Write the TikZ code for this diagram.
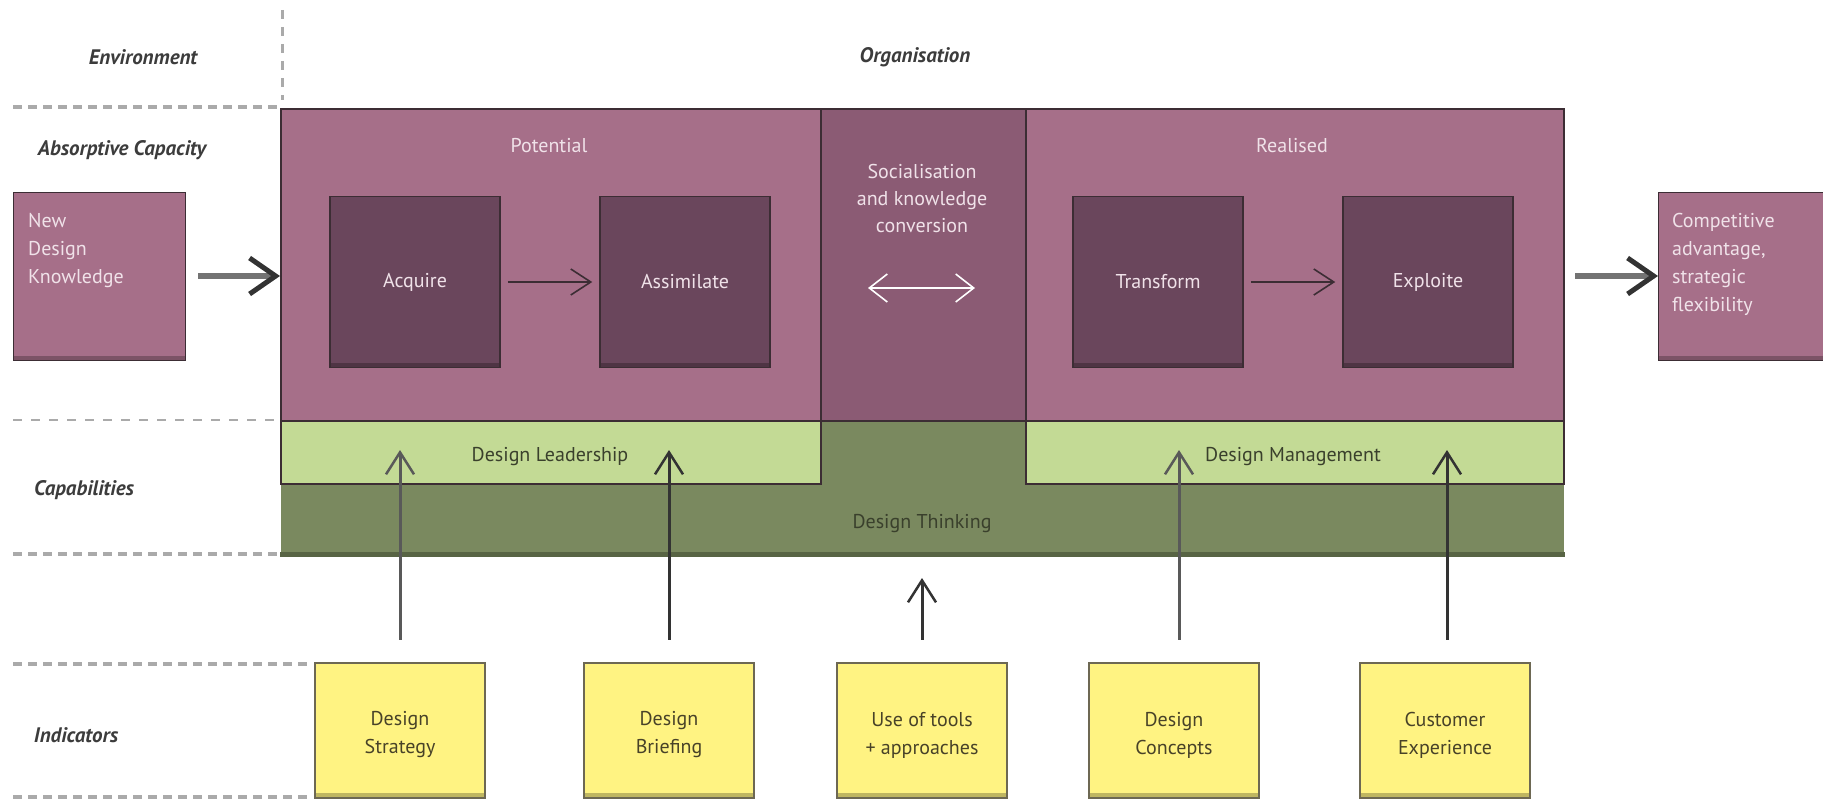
\documentclass[tikz,border=0pt]{standalone}
\usepackage{fontspec}
\setmainfont{PT Sans}
\usetikzlibrary{arrows.meta}
\definecolor{pinkc}{RGB}{166,111,137}
\definecolor{midc}{RGB}{139,91,116}
\definecolor{innerc}{RGB}{106,70,92}
\definecolor{lgreen}{RGB}{195,218,149}
\definecolor{dgreen}{RGB}{122,137,95}
\definecolor{dgreenedge}{RGB}{88,100,68}
\definecolor{yellowc}{RGB}{255,243,130}
\definecolor{edgec}{RGB}{60,45,52}
\definecolor{ptext}{RGB}{240,226,233}
\definecolor{gtext}{RGB}{58,64,44}
\definecolor{ytext}{RGB}{72,66,40}
\definecolor{sepc}{RGB}{170,170,170}
\definecolor{lbl}{RGB}{60,60,60}
\tikzset{
  shadowbottom/.style={path picture={\fill[black,opacity=0.25] (path picture bounding box.south west) rectangle ([yshift=5pt]path picture bounding box.south east);}},
  region/.style={draw=edgec, line width=1.5pt, inner sep=0pt, anchor=north west},
  innerbox/.style={draw=edgec, line width=1.5pt, fill=innerc, shadowbottom, minimum width=170pt, minimum height=171pt, inner sep=0pt, text=ptext, font=\fontsize{20}{24}\selectfont},
  outerbox/.style={draw=edgec, line width=1pt, fill=pinkc, shadowbottom, minimum width=172pt, minimum height=168pt, inner sep=0pt, anchor=north west},
  ybox/.style={draw=ytext!80, line width=2pt, fill=yellowc, shadowbottom, minimum width=170pt, minimum height=135pt, inner sep=0pt},
  ytxt/.style={text=ytext, align=center, font=\fontsize{20}{28}\selectfont, inner sep=0pt},
  ptxt/.style={text=ptext, font=\fontsize{20}{27}\selectfont, inner sep=0pt},
  ptxtb/.style={text=ptext, font=\fontsize{20}{28}\selectfont, inner sep=0pt},
  gtxt/.style={text=gtext, font=\fontsize{20}{24}\selectfont, inner sep=0pt},
  rowlabel/.style={text=lbl, font=\fontsize{21}{24}\selectfont\bfseries\itshape, inner sep=0pt},
  sepline/.style={sepc, line width=4pt, dash pattern=on 9pt off 6pt},
  thinsep/.style={sepc, line width=2pt, dash pattern=on 9pt off 9pt},
  flow/.style={edgec, line width=1.6pt, -{Straight Barb[length=20pt,width=26pt,line width=1.6pt]}},
  bigflow/.style={black!55, line width=6pt, -{Straight Barb[length=26pt,width=36pt,line width=5pt,color=black!80]}},
  upflow/.style={black!80, line width=3pt, -{Straight Barb[length=22pt,width=28pt,line width=2.5pt]}}
}
\begin{document}
\begin{tikzpicture}[x=1pt,y=-1pt]
\useasboundingbox (0,0) rectangle (1823,800);
% separators
\coordinate (vs1) at (282,10); \coordinate (vs2) at (282,100);
\draw[sepc, line width=3pt, dash pattern=on 9pt off 8pt] (vs1) -- (vs2);
\coordinate (h1a) at (13,107); \coordinate (h1b) at (278,107);
\draw[sepline] (h1a) -- (h1b);
\coordinate (h2a) at (13,420); \coordinate (h2b) at (278,420);
\draw[thinsep] (h2a) -- (h2b);
\coordinate (h3a) at (13,554); \coordinate (h3b) at (295,554);
\draw[sepline] (h3a) -- (h3b);
\coordinate (h4a) at (13,664); \coordinate (h4b) at (310,664);
\draw[sepline] (h4a) -- (h4b);
\coordinate (h5a) at (13,797); \coordinate (h5b) at (310,797);
\draw[sepline] (h5a) -- (h5b);
% row labels
\node[rowlabel] (lenv) at (143,57) {Environment};
\node[rowlabel] (lorg) at (915,57) {Organisation};
\node[rowlabel] (labs) at (122,150) {Absorptive Capacity};
\node[rowlabel] (lcap) at (84,490) {Capabilities};
\node[rowlabel] (lind) at (76,735) {Indicators};
% capabilities bands
\node[region, draw=none, fill=dgreen, minimum width=1283pt, minimum height=135pt] (dt) at (280,420) {};
\draw[dgreenedge, line width=5pt] ([yshift=2.5pt]dt.south west) -- ([yshift=2.5pt]dt.south east);
\node[region, fill=lgreen, minimum width=540pt, minimum height=63pt] (dl) at (280,420) {};
\node[region, fill=lgreen, minimum width=538pt, minimum height=63pt] (dm) at (1025,420) {};
\node[gtxt] (dlt) at (550,457) {Design Leadership};
\node[gtxt] (dmt) at (1293,457) {Design Management};
\node[gtxt] (dtt) at (922,524) {Design Thinking};
% absorptive capacity
\node[region, fill=pinkc, minimum width=540pt, minimum height=312pt] (pot) at (280,108) {};
\node[region, fill=pinkc, minimum width=538pt, minimum height=312pt] (real) at (1025,108) {};
\node[region, fill=midc, minimum width=205pt, minimum height=312pt] (soc) at (820,108) {};
\node[ptxt] (pott) at (549,146) {Potential};
\node[ptxt] (realt) at (1292,146) {Realised};
\node[ptxt, align=center] (soct) at (922,198) {Socialisation\\and knowledge\\conversion};
\coordinate (dba) at (868,288); \coordinate (dbb) at (975,288);
\draw[white, line width=1.6pt, {Straight Barb[length=18pt,width=28pt,line width=1.6pt]}-{Straight Barb[length=18pt,width=28pt,line width=1.6pt]}] (dba) -- (dbb);
\node[innerbox] (acq) at (415,282) {Acquire};
\node[innerbox] (ass) at (685,282) {Assimilate};
\node[innerbox] (tra) at (1158,282) {Transform};
\node[innerbox] (exp) at (1428,282) {Exploite};
\draw[flow, shorten <=7pt, shorten >=7pt] (acq.east) -- (ass.west);
\draw[flow, shorten <=7pt, shorten >=7pt] (tra.east) -- (exp.west);
% outer boxes
\node[outerbox] (ndk) at (13,192) {};
\node[ptxtb, anchor=north west, align=left] (ndkt) at (28,213) {New\\Design\\Knowledge};
\node[outerbox, minimum width=180pt] (cas) at (1658,192) {};
\node[ptxtb, anchor=north west, align=left] (cast) at (1672,213) {Competitive\\advantage,\\strategic\\flexibility};
\coordinate (la1) at (198,276);
\draw[bigflow] (la1) -- (pot.west |- la1);
\coordinate (ra1) at (1575,276);
\draw[bigflow] (ra1) -- (cas.west |- ra1);
% indicators
\node[ybox] (ds) at (400,730) {};
\node[ybox] (db) at (669,730) {};
\node[ybox] (ut) at (922,730) {};
\node[ybox] (dc) at (1174,730) {};
\node[ybox] (ce) at (1445,730) {};
\node[ytxt] (dst) at ([yshift=-5pt]ds.center) {Design\\Strategy};
\node[ytxt] (dbt) at ([yshift=-5pt]db.center) {Design\\Briefing};
\node[ytxt] (utt) at ([yshift=-5pt]ut.center) {Use of tools\\+ approaches};
\node[ytxt] (dct) at ([yshift=-5pt]dc.center) {Design\\Concepts};
\node[ytxt] (cet) at ([yshift=-5pt]ce.center) {Customer\\Experience};
\coordinate (u1) at (400,450); \coordinate (u2) at (669,450);
\coordinate (u3) at (922,578); \coordinate (u4) at (1179,450);
\coordinate (u5) at (1447,450);
\draw[upflow, black!65] ([yshift=22pt]ds.north) -- (u1);
\draw[upflow] ([yshift=22pt]db.north) -- (u2);
\draw[upflow] ([yshift=22pt]ut.north) -- (u3);
\draw[upflow, black!65] ([xshift=5pt,yshift=22pt]dc.north) -- (u4);
\draw[upflow] ([xshift=2pt,yshift=22pt]ce.north) -- (u5);
\end{tikzpicture}
\end{document}
